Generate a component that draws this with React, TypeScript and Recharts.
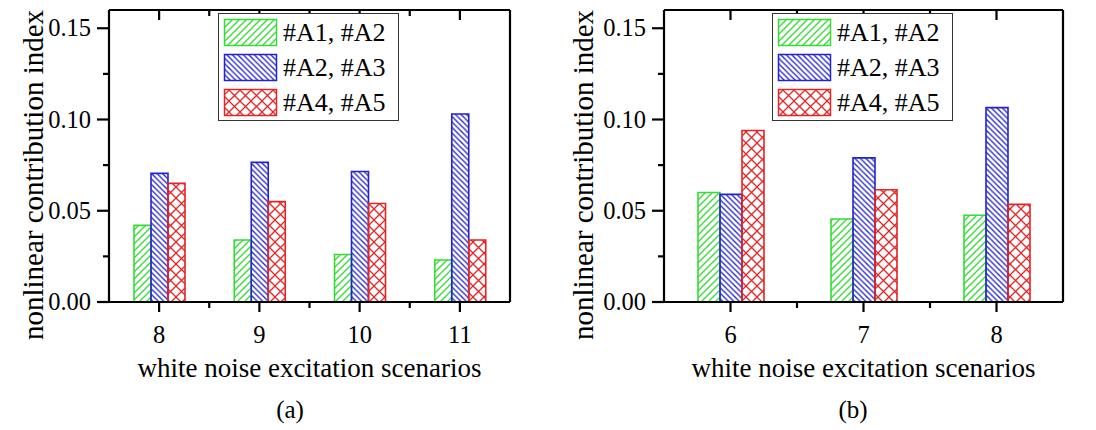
import React from 'react';
import { BarChart, Bar, XAxis, YAxis, Legend, Label } from 'recharts';

// Scenario categories and index values for each sensor pair
const scenariosA = ['8', '9', '10', '11'];
const pairA1A2_a = [0.042, 0.034, 0.026, 0.023];
const pairA2A3_a = [0.0705, 0.0765, 0.0715, 0.103];
const pairA4A5_a = [0.065, 0.055, 0.054, 0.034];

const scenariosB = ['6', '7', '8'];
const pairA1A2_b = [0.06, 0.0455, 0.0475];
const pairA2A3_b = [0.059, 0.079, 0.1065];
const pairA4A5_b = [0.094, 0.0615, 0.0535];

const seriesNames = ['#A1, #A2', '#A2, #A3', '#A4, #A5'];
const yMajorTicks = [0, 0.05, 0.1, 0.15];
const yMinorTicks = [0.025, 0.075, 0.125];
const yDomain: [number, number] = [0, 0.16];
const xTitle = 'white noise excitation scenarios';
const yTitle = 'nonlinear contribution index';

const FONT = '"Liberation Serif", "Times New Roman", Times, serif';
const CHART_H = 430;
const PLOT_TOP = 10;
const PLOT_BOTTOM = 302;
const AXIS_T = 1; // thickness of each axis box

const SERIES = [
  { key: 'a12', color: '#33dd33', pattern: 'hatchGreen' },
  { key: 'a23', color: '#2323cc', pattern: 'hatchBlue' },
  { key: 'a45', color: '#e52424', pattern: 'hatchRed' },
];

const allYTicks = [...yMajorTicks, ...yMinorTicks].sort((a, b) => a - b);
const isMajor = (v: number) => yMajorTicks.some((t) => Math.abs(t - v) < 1e-9);

function buildRows(cats: string[], s1: number[], s2: number[], s3: number[]) {
  return cats.map((name, i) => ({ name, a12: s1[i], a23: s2[i], a45: s3[i] }));
}

const rowsA = buildRows(scenariosA, pairA1A2_a, pairA2A3_a, pairA4A5_a);
const rowsB = buildRows(scenariosB, pairA1A2_b, pairA2A3_b, pairA4A5_b);

function PatternDefs() {
  return (
    <svg width={0} height={0} style={{ position: 'absolute' }}>
      <defs>
        <pattern id="hatchGreen" patternUnits="userSpaceOnUse" width={7} height={7}>
          <path d="M-1.75,1.75 L1.75,-1.75 M0,7 L7,0 M5.25,8.75 L8.75,5.25" stroke="#33dd33" strokeWidth={1.3} />
        </pattern>
        <pattern id="hatchBlue" patternUnits="userSpaceOnUse" width={5.5} height={5.5}>
          <path d="M-1.5,4 L1.5,7 M0,0 L5.5,5.5 M4,-1.5 L7,1.5" stroke="#2323cc" strokeWidth={1.3} />
        </pattern>
        <pattern id="hatchRed" patternUnits="userSpaceOnUse" width={11} height={11}>
          <path d="M0,0 L11,11 M11,0 L0,11 M-2,-2 L2,2 M9,13 L13,9" stroke="#e52424" strokeWidth={1.3} />
        </pattern>
      </defs>
    </svg>
  );
}

function LegendBox({ payload }: any) {
  const items = (payload && payload.length ? payload : SERIES.map((s, i) => ({ dataKey: s.key, value: seriesNames[i] }))) as any[];
  return (
    <svg width={182} height={110} style={{ display: 'block' }}>
      <rect x={0.5} y={0.5} width={180} height={107} fill="#fff" stroke="#333" strokeWidth={1} />
      {items.map((it, i) => {
        const s = SERIES.find((q) => q.key === it.dataKey) || SERIES[i];
        const y0 = 6 + i * 35;
        return (
          <g key={s.key}>
            <rect x={6.5} y={y0 + 0.5} width={52} height={26} fill="#fff" />
            <rect x={6.5} y={y0 + 0.5} width={52} height={26} fill={`url(#${s.pattern})`} stroke={s.color} strokeWidth={1.5} />
            <text x={65} y={y0 + 22} fontSize={26} fontFamily={FONT} fill="#000">
              {it.value}
            </text>
          </g>
        );
      })}
    </svg>
  );
}

type PanelProps = {
  rows: any[];
  left: number;
  width: number;
  plotLeft: number;
  plotRight: number;
  barSize: number;
  legendX: number;
  yTitleX: number;
  tag: string;
  tagX: number;
};

function Panel({ rows, left, width, plotLeft, plotRight, barSize, legendX, yTitleX, tag, tagX }: PanelProps) {
  const plotW = plotRight - plotLeft;
  const step = plotW / rows.length;
  const n = rows.length;

  const leftTick = (p: any) => {
    const { x, y, payload } = p;
    const major = isMajor(payload.value);
    return (
      <g>
        <line x1={x - (major ? 12 : 6)} x2={x} y1={y} y2={y} stroke="#000" strokeWidth={2.2} />
        {major && (
          <text x={x - 18} y={y + 8} textAnchor="end" fontSize={24.5} fontFamily={FONT} fill="#000">
            {payload.value.toFixed(2)}
          </text>
        )}
      </g>
    );
  };

  const rightTick = (p: any) => {
    const { x, y, payload } = p;
    const major = isMajor(payload.value);
    return <line x1={x - (major ? 10 : 5)} x2={x} y1={y} y2={y} stroke="#000" strokeWidth={2.2} />;
  };

  const bottomTick = (p: any) => {
    const { x, y, payload, index } = p;
    return (
      <g>
        <line x1={x} x2={x} y1={y} y2={y + 10} stroke="#000" strokeWidth={2.2} />
        {index < n - 1 && <line x1={x + step / 2} x2={x + step / 2} y1={y} y2={y + 6} stroke="#000" strokeWidth={2.2} />}
        <text x={x} y={y + 41} textAnchor="middle" fontSize={24.5} fontFamily={FONT} fill="#000">
          {payload.value}
        </text>
      </g>
    );
  };

  const topTick = (p: any) => {
    const { x, y, index } = p;
    return (
      <g>
        <line x1={x} x2={x} y1={y} y2={y + 10} stroke="#000" strokeWidth={2.2} />
        {index < n - 1 && <line x1={x + step / 2} x2={x + step / 2} y1={y} y2={y + 6} stroke="#000" strokeWidth={2.2} />}
      </g>
    );
  };

  return (
    <div style={{ position: 'absolute', left, top: 0, width, height: CHART_H }}>
      <BarChart
        width={width}
        height={CHART_H}
        data={rows}
        barGap={0}
        margin={{
          top: PLOT_TOP - AXIS_T,
          right: width - plotRight - AXIS_T,
          bottom: CHART_H - PLOT_BOTTOM - AXIS_T,
          left: plotLeft - AXIS_T,
        }}
      >
        <XAxis
          dataKey="name"
          height={AXIS_T}
          tickSize={0}
          tickMargin={0}
          tickLine={false}
          axisLine={{ stroke: '#000', strokeWidth: 2.2 }}
          tick={bottomTick}
          interval={0}
        >
          <Label
            content={(lp: any) => {
              const vb = lp.viewBox || { x: plotLeft, y: PLOT_BOTTOM, width: plotW };
              const cx = vb.x + vb.width / 2;
              return (
                <g>
                  <text x={cx} y={vb.y + 75} textAnchor="middle" fontSize={27} fontFamily={FONT} fill="#000">
                    {xTitle}
                  </text>
                  <text x={tagX} y={vb.y + 116} textAnchor="middle" fontSize={25} fontFamily={FONT} fill="#000">
                    {tag}
                  </text>
                </g>
              );
            }}
          />
        </XAxis>
        <XAxis
          xAxisId="top"
          orientation="top"
          dataKey="name"
          height={AXIS_T}
          tickSize={0}
          tickMargin={0}
          tickLine={false}
          axisLine={{ stroke: '#000', strokeWidth: 2.2 }}
          tick={topTick}
          interval={0}
        />
        <YAxis
          width={AXIS_T}
          domain={yDomain}
          ticks={allYTicks}
          interval={0}
          tickSize={0}
          tickMargin={0}
          tickLine={false}
          axisLine={{ stroke: '#000', strokeWidth: 2.2 }}
          tick={leftTick}
        >
          <Label
            content={(lp: any) => {
              const vb = lp.viewBox || { x: plotLeft, y: PLOT_TOP, height: PLOT_BOTTOM - PLOT_TOP };
              const cy = vb.y + vb.height / 2 + 19;
              return (
                <text
                  transform={`translate(${yTitleX},${cy}) rotate(-90)`}
                  textAnchor="middle"
                  fontSize={29}
                  fontFamily={FONT}
                  fill="#000"
                >
                  {yTitle}
                </text>
              );
            }}
          />
        </YAxis>
        <YAxis
          yAxisId="right"
          orientation="right"
          width={AXIS_T}
          domain={yDomain}
          ticks={allYTicks}
          interval={0}
          tickSize={0}
          tickMargin={0}
          tickLine={false}
          axisLine={{ stroke: '#000', strokeWidth: 2.2 }}
          tick={rightTick}
        />
        {SERIES.map((s, i) => (
          <Bar
            key={s.key}
            dataKey={s.key}
            name={seriesNames[i]}
            fill={`url(#${s.pattern})`}
            stroke={s.color}
            strokeWidth={1.6}
            barSize={barSize}
            isAnimationActive={false}
          />
        ))}
        <Legend
          layout="vertical"
          align="center"
          verticalAlign="middle"
          wrapperStyle={{ left: legendX, top: 13, width: 182, height: 110 }}
          content={(lp: any) => <LegendBox payload={lp.payload} />}
        />
      </BarChart>
    </div>
  );
}

export default function App() {
  return (
    <div style={{ position: 'absolute', left: 0, top: 0, width: 1096, height: 430, background: '#fff', overflow: 'hidden' }}>
      <PatternDefs />
      <Panel
        rows={rowsA}
        left={0}
        width={548}
        plotLeft={109}
        plotRight={510}
        barSize={17}
        legendX={218}
        yTitleX={43}
        tag="(a)"
        tagX={290}
      />
      <Panel
        rows={rowsB}
        left={548}
        width={548}
        plotLeft={116}
        plotRight={515}
        barSize={22}
        legendX={224}
        yTitleX={45}
        tag="(b)"
        tagX={305}
      />
    </div>
  );
}
